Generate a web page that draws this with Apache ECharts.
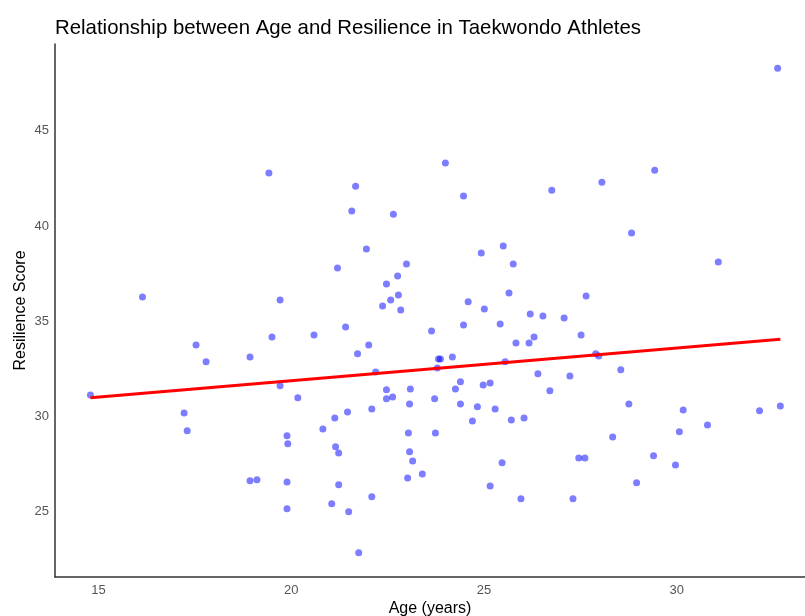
<!DOCTYPE html>
<html lang="en">
<head>
    <meta charset="UTF-8">
    <title>Age vs Resilience</title>
    <style>
        html, body { margin: 0; padding: 0; background: #fff; }
        #main { width: 805px; height: 616px; }
    </style>
</head>
<body>
<div id="main"></div>

<script src="https://cdn.jsdelivr.net/npm/echarts@6.0.0/dist/echarts.min.js"></script>
<script>
    // ages (x) and resilience scores (y)
    var ages = [
        14.79, 16.14, 17.22, 17.30, 17.53, 17.79, 18.93, 18.93, 19.11, 19.42,
        19.50, 19.71, 19.71, 19.89, 19.91, 19.89, 19.89, 20.17, 20.59, 20.82,
        21.05, 21.13, 21.15, 21.23, 21.20, 21.23, 21.41, 21.46, 21.49, 21.57,
        21.67, 21.72, 21.75, 21.95, 22.01, 22.09, 22.09, 22.19, 22.37, 22.47,
        22.47, 22.47, 22.58, 22.65, 22.63, 22.76, 22.78, 22.84, 22.99, 23.02,
        23.04, 23.07, 23.07, 23.09, 23.15, 23.40, 23.64, 23.72, 23.74, 23.79,
        23.82, 23.87, 24.00, 24.18, 24.26, 24.39, 24.39, 24.47, 24.47, 24.59,
        24.70, 24.83, 24.93, 24.98, 25.01, 25.16, 25.16, 25.29, 25.42, 25.47,
        25.50, 25.55, 25.65, 25.71, 25.76, 25.83, 25.96, 26.04, 26.17, 26.20,
        26.30, 26.40, 26.53, 26.71, 26.76, 27.08, 27.23, 27.31, 27.46, 27.62,
        27.52, 27.65, 27.90, 27.98, 28.06, 28.34, 28.55, 28.76, 28.83, 28.96,
        29.40, 29.43, 29.97, 30.07, 30.17, 30.80, 31.08, 32.15, 32.62, 32.69
    ];
    var scores = [
        31.13, 36.27, 30.19, 29.25, 33.76, 32.87, 33.13, 26.63, 26.68, 42.78,
        34.18, 36.12, 31.61, 28.99, 28.57, 26.57, 25.16, 30.98, 34.28, 29.35,
        25.42, 29.93, 28.41, 28.09, 37.79, 26.42, 34.70, 30.24, 25.00, 40.78,
        42.09, 33.29, 22.85, 38.79, 33.76, 30.40, 25.79, 32.34, 35.80, 36.96,
        31.40, 30.93, 36.12, 40.62, 31.03, 37.38, 36.38, 35.59, 38.00, 26.78,
        29.14, 28.15, 30.66, 31.45, 27.67, 26.99, 34.49, 30.93, 29.14, 32.55,
        33.02, 33.02, 43.30, 33.13, 31.45, 31.82, 30.66, 34.81, 41.57, 36.02,
        29.77, 30.51, 38.58, 31.66, 35.65, 31.76, 26.36, 30.40, 34.86, 27.57,
        38.95, 32.87, 36.48, 29.82, 38.00, 33.86, 25.68, 29.93, 33.86, 35.38,
        34.18, 32.24, 35.28, 31.35, 41.88, 35.17, 32.13, 25.68, 27.83, 27.83,
        34.28, 36.33, 33.29, 33.18, 42.30, 28.93, 32.45, 30.66, 39.63, 26.52,
        27.94, 42.93, 27.46, 29.20, 30.35, 29.56, 38.11, 30.30, 48.28, 30.56
    ];
    // fitted line end points
    var trendX = [14.79, 32.69];
    var trendY = [30.99, 34.06];
    var xTicks = [15, 20, 25, 30];
    var yTicks = [25, 30, 35, 40, 45];

    var points = ages.map(function (a, i) { return [a, scores[i]]; });
    var trend = trendX.map(function (a, i) { return [a, trendY[i]]; });

    var myChart = echarts.init(document.getElementById('main'));
    var fontFam = '"Liberation Sans", Arial, sans-serif';
    var option = {
        animation: false,
        backgroundColor: '#fff',
        title: {
            text: 'Relationship between Age and Resilience in Taekwondo Athletes',
            left: 50,
            top: 13,
            textStyle: { fontFamily: fontFam, fontSize: 20.4, fontWeight: 'normal', color: '#000' }
        },
        grid: { left: 55, right: 0, top: 44, bottom: 39, outerBoundsMode: 'none', containLabel: false },
        xAxis: {
            type: 'value',
            min: 13.87,
            max: 33.33,
            name: 'Age (years)',
            nameLocation: 'middle',
            nameGap: 24,
            nameMoveOverlap: false,
            nameTextStyle: { fontFamily: fontFam, fontSize: 16, color: '#000' },
            axisLine: { show: true, lineStyle: { color: '#333', width: 1.5 } },
            axisTick: { show: false },
            splitLine: { show: false },
            axisLabel: {
                customValues: xTicks,
                margin: 7,
                fontFamily: fontFam, fontSize: 13, color: '#555'
            }
        },
        yAxis: {
            type: 'value',
            min: 21.58,
            max: 49.55,
            name: 'Resilience Score',
            nameLocation: 'middle',
            nameGap: 26,
            nameMoveOverlap: false,
            nameTextStyle: { fontFamily: fontFam, fontSize: 16, color: '#000' },
            axisLine: { show: true, lineStyle: { color: '#333', width: 1.5 } },
            axisTick: { show: false },
            splitLine: { show: false },
            axisLabel: {
                customValues: yTicks,
                margin: 6,
                fontFamily: fontFam, fontSize: 13, color: '#555'
            }
        },
        series: [
            {
                type: 'scatter',
                data: points,
                symbolSize: 7,
                itemStyle: { color: 'rgba(0,0,255,0.64)' },
                z: 2
            },
            {
                type: 'line',
                data: trend,
                showSymbol: false,
                lineStyle: { color: '#ff0000', width: 3 },
                z: 3
            }
        ]
    };

    myChart.setOption(option);
</script>
</body>
</html>
